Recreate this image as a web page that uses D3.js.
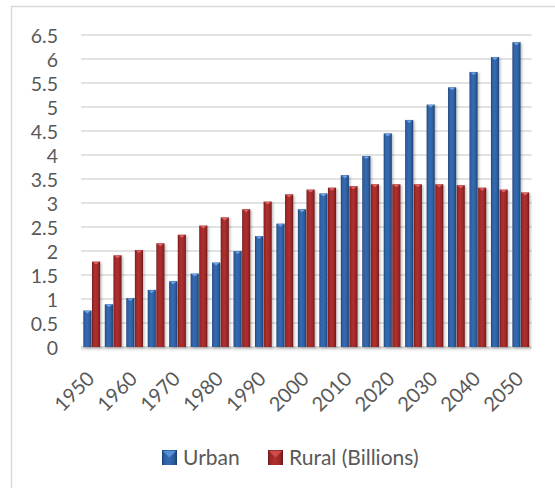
<!DOCTYPE html>
<html>
<head>
<meta charset="utf-8">
<script src="https://cdn.jsdelivr.net/npm/d3@7"></script>
<style>
  html, body { margin: 0; padding: 0; background: #fff; }
  svg { display: block; }
  text { font-family: Lato, "Open Sans", sans-serif; fill: #595959; }
</style>
</head>
<body>
<svg id="chart" width="555" height="488"></svg>
<script>
const years = [1950,1955,1960,1965,1970,1975,1980,1985,1990,1995,2000,2005,2010,2015,2020,2025,2030,2035,2040,2045,2050];
const urban = [0.76,0.89,1.02,1.19,1.37,1.53,1.76,2.00,2.31,2.57,2.87,3.20,3.58,3.98,4.45,4.73,5.05,5.41,5.73,6.04,6.35];
const rural = [1.78,1.91,2.02,2.16,2.34,2.53,2.70,2.87,3.03,3.18,3.28,3.32,3.35,3.39,3.39,3.39,3.39,3.37,3.32,3.28,3.22];
const seriesNames = ["Urban", "Rural (Billions)"];
const yTicks = [0,0.5,1,1.5,2,2.5,3,3.5,4,4.5,5,5.5,6,6.5];
const xTickYears = [1950,1960,1970,1980,1990,2000,2010,2020,2030,2040,2050];

const svg = d3.select("#chart");
const pLeft = 81, pRight = 531.5, pTop = 35, pBottom = 347;

const defs = svg.append("defs");
function hGrad(id, stops) {
  const g = defs.append("linearGradient").attr("id", id).attr("x1","0").attr("x2","1").attr("y1","0").attr("y2","0");
  stops.forEach(([o,c]) => g.append("stop").attr("offset", o).attr("stop-color", c));
}
hGrad("gBlue", [[0,"#1d3f72"],[0.15,"#2d5fa2"],[0.45,"#366bb2"],[0.8,"#2c5c9c"],[1,"#1b3a69"]]);
hGrad("gRed", [[0,"#6e1a1a"],[0.15,"#9c2828"],[0.45,"#b03030"],[0.8,"#982727"],[1,"#6a1818"]]);
const sh = defs.append("linearGradient").attr("id","gShadow").attr("x1","0").attr("x2","0").attr("y1","0").attr("y2","1");
sh.append("stop").attr("offset",0).attr("stop-color","#c8c8c8");
sh.append("stop").attr("offset",1).attr("stop-color","#ffffff").attr("stop-opacity",0);
const f = defs.append("filter").attr("id","drop").attr("x","-50%").attr("y","-10%").attr("width","200%").attr("height","130%");
f.append("feDropShadow").attr("dx",1.5).attr("dy",1).attr("stdDeviation",1.2).attr("flood-color","#000").attr("flood-opacity",0.25);

// outer border
svg.append("rect").attr("x", 11.5).attr("y", 6.5).attr("width", 700).attr("height", 700)
  .attr("fill", "none").attr("stroke", "#d9d9d9").attr("stroke-width", 1.5);

const x = d3.scaleBand().domain(years).range([pLeft, pRight]).paddingInner(0.22).paddingOuter(0.11);
const xs = d3.scaleBand().domain(seriesNames).range([0, x.bandwidth()]).paddingInner(0.06);
const y = d3.scaleLinear().domain([0, 6.5]).range([pBottom, pTop]);

// gridlines
svg.append("g").selectAll("line").data(yTicks).join("line")
  .attr("x1", pLeft).attr("x2", pRight)
  .attr("y1", d => y(d)).attr("y2", d => y(d))
  .attr("stroke", "#d9d9d9").attr("stroke-width", 1.5);

// floor shadow
svg.append("rect").attr("x", pLeft).attr("y", pBottom).attr("width", pRight-pLeft).attr("height", 6)
  .attr("fill", "url(#gShadow)");

// y axis
const yAxis = d3.axisLeft(y).tickValues(yTicks).tickSize(0).tickPadding(0).tickFormat(d3.format("~g"));
const yg = svg.append("g").attr("transform", `translate(58,0)`).call(yAxis);
yg.select(".domain").remove();
yg.selectAll("text").style("font-size", "19.5px").attr("fill", "#595959").attr("dy", "0.36em");

// bars
const data = years.map((yr, i) => ({ year: yr, vals: [urban[i], rural[i]] }));
const groups = svg.append("g").selectAll("g").data(data).join("g")
  .attr("transform", d => `translate(${x(d.year)},0)`);
groups.selectAll("g.bar").data(d => d.vals.map((v, k) => ({ name: seriesNames[k], v, k })))
  .join("g").attr("class", "bar").each(function(d) {
    const g = d3.select(this);
    const bx = xs(d.name), bw = xs.bandwidth(), by = y(d.v), bh = pBottom - y(d.v);
    g.append("rect").attr("x", bx).attr("y", by).attr("width", bw).attr("height", bh)
      .attr("fill", d.k === 0 ? "url(#gBlue)" : "url(#gRed)").attr("filter", "url(#drop)");
    g.append("path")
      .attr("d", `M${bx+1},${by+0.5} L${bx+bw-1},${by+0.5} L${bx+bw/2},${by+3} Z`)
      .attr("fill", d.k === 0 ? "#6fa6e8" : "#e06464");
  });

// x axis
const xAxis = d3.axisBottom(x).tickValues(xTickYears).tickSize(0).tickPadding(0);
const xg = svg.append("g").attr("transform", `translate(0,${pBottom})`).call(xAxis);
xg.select(".domain").remove();
xg.selectAll("text")
  .style("font-size", "20px").attr("fill", "#595959")
  .attr("text-anchor", "end")
  .attr("transform", "translate(-1,28) rotate(-45)")
  .attr("x", 0).attr("y", 0).attr("dy", "0.35em");

// legend
const legendX = [162, 268];
const lg = svg.append("g").selectAll("g").data(seriesNames).join("g")
  .attr("transform", (d, i) => `translate(${legendX[i]},450)`);
lg.append("rect").attr("width", 15).attr("height", 15)
  .attr("fill", (d, i) => i === 0 ? "url(#gBlue)" : "url(#gRed)");
lg.append("path").attr("d", "M1,1 L14,1 L7.5,7.5 Z").attr("fill", (d,i) => i === 0 ? "#5b93d8" : "#d45050").attr("opacity", 0.9);
lg.append("text").attr("x", 21).attr("y", 15).style("font-size", "21px").attr("fill", "#595959").text(d => d);
</script>
</body>
</html>
